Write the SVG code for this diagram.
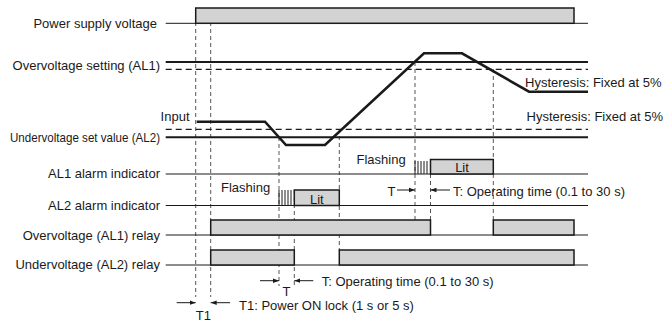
<svg xmlns="http://www.w3.org/2000/svg" width="665" height="323" viewBox="0 0 665 323">
<defs>
<style>
text{font-family:"Liberation Sans",Arial,sans-serif;font-size:13px;fill:#1a1a1a}
.lbl{text-anchor:end}
.mid{text-anchor:middle}
.base{stroke:#1a1a1a;stroke-width:1;fill:none}
.box{fill:#d3d3d3;stroke:#1a1a1a;stroke-width:1.5}
.set{stroke:#1a1a1a;stroke-width:2;fill:none}
.hdash{stroke:#1a1a1a;stroke-width:1.2;stroke-dasharray:6 4;fill:none}
.vdash{stroke:#555;stroke-width:1;stroke-dasharray:4 3;fill:none}
.input{stroke:#1a1a1a;stroke-width:2.6;fill:none;stroke-linejoin:miter}
.flash{stroke:#1a1a1a;stroke-width:1}
.arr{stroke:#1a1a1a;stroke-width:1;fill:none}
</style>
<marker id="ah" viewBox="0 0 6 6" refX="6" refY="3" markerWidth="6" markerHeight="6" markerUnits="userSpaceOnUse" orient="auto">
<path d="M0,0.8 L6,3 L0,5.2 Z" fill="#1a1a1a"/>
</marker>
</defs>

<g id="guides">
<line class="vdash" x1="195.7" y1="8" x2="195.7" y2="297"/>
<line class="vdash" x1="210.7" y1="8" x2="210.7" y2="297"/>
<line class="vdash" x1="279" y1="137" x2="279" y2="286"/>
<line class="vdash" x1="294.3" y1="190" x2="294.3" y2="286"/>
<line class="vdash" x1="339.3" y1="129" x2="339.3" y2="250"/>
<line class="vdash" x1="415" y1="62" x2="415" y2="235"/>
<line class="vdash" x1="430.5" y1="160" x2="430.5" y2="220"/>
<line class="vdash" x1="493.3" y1="69" x2="493.3" y2="220"/>
</g>

<g id="power-supply">
<text class="lbl" x="157" y="27.5">Power supply voltage</text>
<line class="base" x1="165.7" y1="23.3" x2="588" y2="23.3"/>
<rect class="box" x="195.7" y="8" width="378.3" height="15.3"/>
</g>

<g id="overvoltage-setting">
<text class="lbl" x="160" y="69.5">Overvoltage setting (AL1)</text>
<line class="set" x1="165.7" y1="62" x2="588" y2="62"/>
<line class="hdash" x1="165.7" y1="69.3" x2="588" y2="69.3"/>
<text x="525" y="86.5">Hysteresis: Fixed at 5%</text>
</g>

<g id="undervoltage-setting">
<text class="lbl" x="160" y="142" textLength="150" lengthAdjust="spacingAndGlyphs">Undervoltage set value (AL2)</text>
<line class="hdash" x1="165.7" y1="129.3" x2="588" y2="129.3"/>
<line class="set" x1="165.7" y1="137.3" x2="588" y2="137.3"/>
<text x="526.5" y="121">Hysteresis: Fixed at 5%</text>
</g>

<g id="input">
<text class="lbl" x="189.5" y="120.5">Input</text>
<polyline class="input" points="196.7,121.7 265,121.7 286,145 325,145 424,53.3 462,53.3 529,91.7 588,91.7"/>
</g>

<g id="al1-indicator">
<text class="lbl" x="160" y="177.8">AL1 alarm indicator</text>
<line class="base" x1="165.7" y1="174" x2="588" y2="174"/>
<text x="356.5" y="163.8">Flashing</text>
<path class="flash" d="M415,161V174M418,161V174M421,161V174M424,161V174M427,161V174"/>
<rect class="box" x="430.5" y="159.5" width="62.8" height="14.5"/>
<text class="mid" x="462" y="171.5">Lit</text>
</g>

<g id="al2-indicator">
<text class="lbl" x="160" y="210.3">AL2 alarm indicator</text>
<line class="base" x1="165.7" y1="205.5" x2="588" y2="205.5"/>
<text x="221" y="191.8">Flashing</text>
<path class="flash" d="M279,190V205.5M282,190V205.5M285,190V205.5M288,190V205.5M291,190V205.5"/>
<rect class="box" x="294.3" y="190" width="45" height="15.5"/>
<text class="mid" x="316.8" y="204">Lit</text>
</g>

<g id="overvoltage-relay">
<text class="lbl" x="160" y="239.5">Overvoltage (AL1) relay</text>
<line class="base" x1="165.7" y1="235" x2="588" y2="235"/>
<rect class="box" x="210.7" y="220" width="219.8" height="15"/>
<rect class="box" x="493.3" y="220" width="80.7" height="15"/>
</g>

<g id="undervoltage-relay">
<text class="lbl" x="160" y="269">Undervoltage (AL2) relay</text>
<line class="base" x1="165.7" y1="265" x2="588" y2="265"/>
<rect class="box" x="210.7" y="250" width="83.6" height="15"/>
<rect class="box" x="339.3" y="250" width="234.7" height="15"/>
</g>

<g id="connectors">
<line class="arr" x1="397" y1="190" x2="415" y2="190" marker-end="url(#ah)"/>
<line class="arr" x1="450" y1="190" x2="430.5" y2="190" marker-end="url(#ah)"/>
<line class="arr" x1="260" y1="280.7" x2="279" y2="280.7" marker-end="url(#ah)"/>
<line class="arr" x1="313.3" y1="280.7" x2="294.3" y2="280.7" marker-end="url(#ah)"/>
<line class="arr" x1="176.7" y1="302.7" x2="195.7" y2="302.7" marker-end="url(#ah)"/>
<line class="arr" x1="230" y1="302.7" x2="210.7" y2="302.7" marker-end="url(#ah)"/>
</g>

<g id="annotations">
<text class="lbl" x="395.5" y="195.5">T</text>
<text x="453" y="195.5">T: Operating time (0.1 to 30 s)</text>
<text class="mid" x="286.5" y="295.5">T</text>
<text x="321.7" y="286">T: Operating time (0.1 to 30 s)</text>
<text class="mid" x="203.3" y="320">T1</text>
<text x="239" y="310">T1: Power ON lock (1 s or 5 s)</text>
</g>
</svg>
